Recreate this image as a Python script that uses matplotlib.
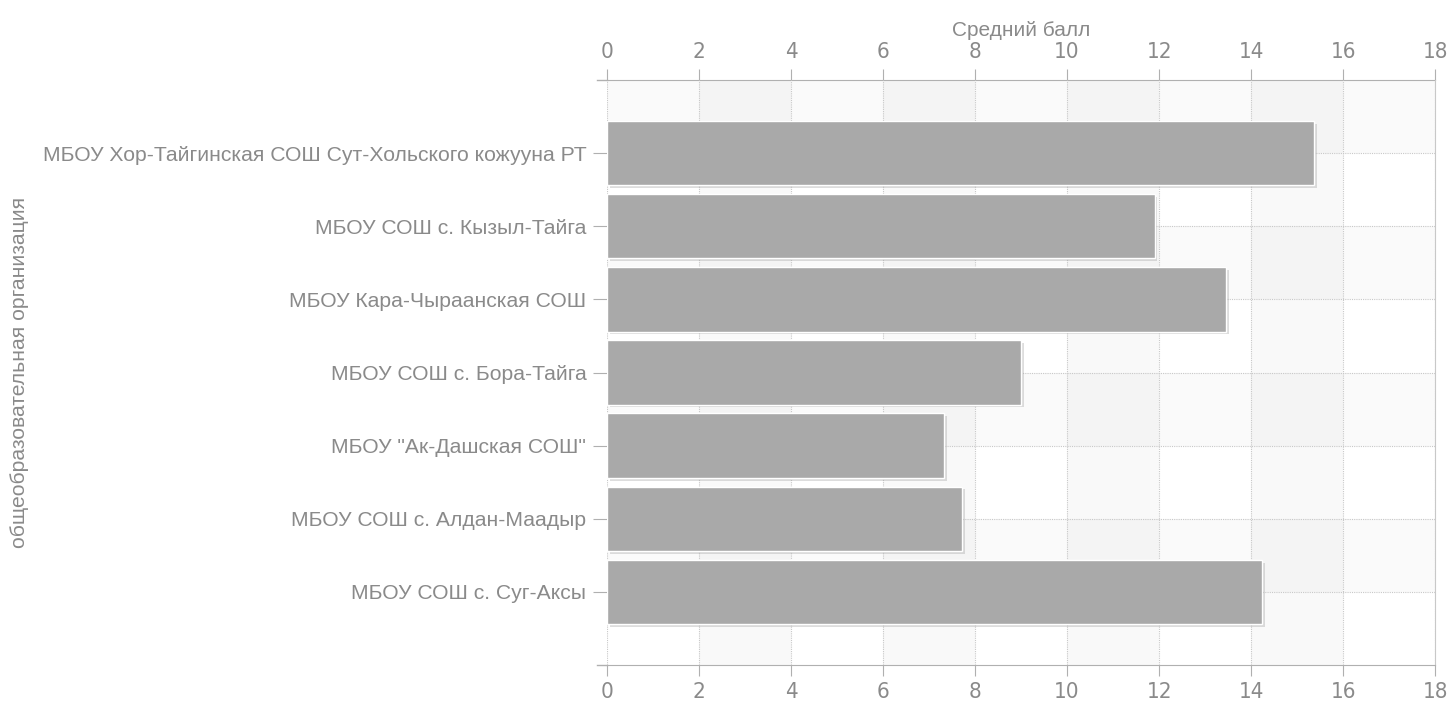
import matplotlib
matplotlib.use("Agg")
import matplotlib.pyplot as plt
import matplotlib.patheffects as pe
import numpy as np

schools = [
    "МБОУ Хор-Тайгинская СОШ Сут-Хольского кожууна РТ",
    "МБОУ СОШ с. Кызыл-Тайга",
    "МБОУ Кара-Чыраанская СОШ",
    "МБОУ СОШ с. Бора-Тайга",
    'МБОУ "Ак-Дашская СОШ"',
    "МБОУ СОШ с. Алдан-Маадыр",
    "МБОУ СОШ с. Суг-Аксы",
]
scores = [15.37, 11.90, 13.46, 9.00, 7.33, 7.72, 14.24]
xticks = [0, 2, 4, 6, 8, 10, 12, 14, 16, 18]

txt = "#8a8a8a"
line = "#b0b0b0"
narrow = ["Liberation Sans Narrow", "DejaVu Sans"]

fig = plt.figure(figsize=(14.49, 7.05), dpi=100)
ax = fig.add_axes([0.419, 0.0567, 0.5714, 0.8298])

y = np.arange(len(schools))
ax.set_xlim(0, 18)
ax.set_ylim(len(schools), -1)

# light checkerboard background
for i in range(0, 18, 2):
    if (i // 2) % 2 == 1:
        ax.axvspan(i, i + 2, color="black", alpha=0.022, lw=0, zorder=0)
for k in range(-1, len(schools), 2):
    ax.axhspan(k, k + 1, color="black", alpha=0.018, lw=0, zorder=0)

ax.grid(True, color="#c8c8c8", linestyle=(0, (1, 1)), linewidth=0.8, zorder=1)
ax.set_axisbelow(True)

bars = ax.barh(y, scores, height=0.88, color="#a9a9a9", edgecolor="white",
               linewidth=1.0, zorder=3)
for b in bars:
    b.set_path_effects([pe.SimplePatchShadow(offset=(2, -2), shadow_rgbFace="#aaaaaa", alpha=0.4),
                        pe.Normal()])

ax.set_yticks(y)
ax.set_yticklabels(schools, fontsize=15.2, color=txt, family="Liberation Sans")
ax.set_xticks(xticks)
ax.tick_params(axis="x", direction="out", length=8, color=line, labelcolor=txt,
               labelsize=16, pad=4)
ax.tick_params(axis="y", direction="out", length=10, color=line, pad=5)
for lbl in ax.get_xticklabels():
    lbl.set_family(narrow)
    lbl.set_stretch("condensed")

top = ax.secondary_xaxis("top")
top.set_xticks(xticks)
top.tick_params(direction="out", length=8, color=line, labelcolor=txt, labelsize=16, pad=5)
for lbl in top.get_xticklabels():
    lbl.set_family(narrow)
    lbl.set_stretch("condensed")
top.spines["top"].set_color(line)
top.set_xlabel("Средний балл", fontsize=15, color=txt, family="Liberation Sans", labelpad=4)

ax.set_ylabel("общеобразовательная организация", fontsize=15.2, color=txt,
              family="Liberation Sans")
ax.yaxis.set_label_coords(-0.698, 0.5)

ax.spines["top"].set_visible(False)
ax.spines["bottom"].set_color(line)
ax.spines["right"].set_color("#c8c8c8")
ax.spines["left"].set_visible(False)

# axis lines run a little past the left edge, as in the original
for yy in (0, 1):
    ax.plot([-0.012, 0], [yy, yy], color=line, lw=1.0, transform=ax.transAxes, clip_on=False)

plt.savefig("out.png", dpi=100)
